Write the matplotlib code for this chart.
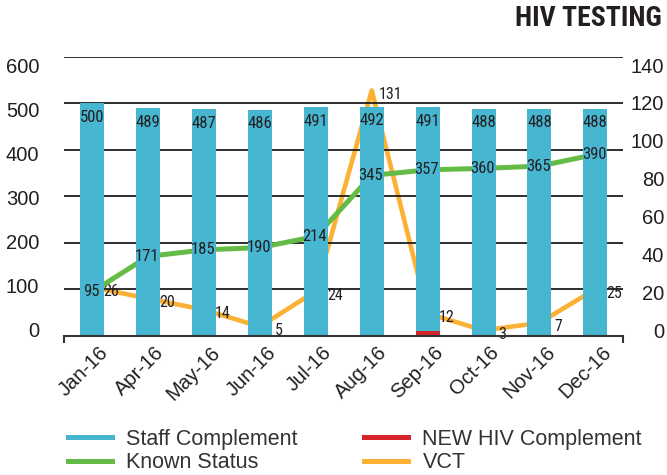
import matplotlib.pyplot as plt
from matplotlib.lines import Line2D
from matplotlib.transforms import ScaledTranslation

months = ['Jan-16', 'Apr-16', 'May-16', 'Jun-16', 'Jul-16',
          'Aug-16', 'Sep-16', 'Oct-16', 'Nov-16', 'Dec-16']
staff = [500, 489, 487, 486, 491, 492, 491, 488, 488, 488]
known = [95, 171, 185, 190, 214, 345, 357, 360, 365, 390]
new_hiv = [0, 0, 0, 0, 0, 0, 10, 0, 0, 0]
vct = [26, 20, 14, 5, 24, 131, 12, 3, 7, 25]
left_ticks = [0, 100, 200, 300, 400, 500, 600]
right_ticks = [0, 20, 40, 60, 80, 100, 120, 140]
series_names = ['Staff Complement', 'Known Status', 'NEW HIV Complement', 'VCT']

BLUE = '#47b6d1'
GREEN = '#64bc46'
RED = '#d7242b'
ORANGE = '#fbb133'
TEXT = '#231f20'

narrow = ['Roboto Condensed', 'Liberation Sans Narrow', 'Roboto', 'DejaVu Sans']
plt.rcParams['font.family'] = ['Liberation Sans', 'DejaVu Sans']

fig = plt.figure(figsize=(6.67, 4.75), dpi=100)
pos = [64.3 / 667, 1 - 336 / 475, 559 / 667, 279.3 / 475]
ax = fig.add_axes(pos)
ax2 = ax.twinx()
# bars and known-status line sit above the VCT line
ax.set_zorder(ax2.get_zorder() + 1)
ax.patch.set_visible(False)
ax2.patch.set_visible(False)

x = list(range(len(months)))

# gridlines
ax.set_ylim(0, 600)
ax.set_yticks(left_ticks)
ax.yaxis.grid(True, color='#1e1e1e', lw=1.3)
ax.set_axisbelow(True)
ax.tick_params(axis='y', length=0, labelleft=False)

# lines (behind bars)
ax.plot(x, known, color=GREEN, lw=3.6, zorder=1)
ax2.plot(x, vct, color=ORANGE, lw=3.3, zorder=1)
ax2.set_ylim(0, 149)
ax2.set_yticks([])

# bars
ax.bar(x, staff, width=0.43, color=BLUE, zorder=2)
ax.bar(x, new_hiv, width=0.43, color=RED, zorder=2.1)

# data labels
for i, v in enumerate(staff):
    ax.annotate(str(v), (i, v), xytext=(0, -14), textcoords='offset pixels',
                ha='center', va='center', fontsize=12, family=narrow,
                color=TEXT, zorder=3)
for i, v in enumerate(known):
    ax.annotate(str(v), (i, v), xytext=(-1, 0), textcoords='offset pixels',
                ha='center', va='center', fontsize=12, family=narrow,
                color=TEXT, zorder=3)
for i, v in enumerate(vct):
    ax2.annotate(str(v), (i, v), xytext=(19, -4), textcoords='offset pixels',
                 ha='center', va='center', fontsize=11.5, family=narrow,
                 color=TEXT, zorder=3)

# x axis
ax.set_xlim(-0.5, 9.5)
ax.set_xticks(x, months, rotation=45, ha='right', rotation_mode='anchor',
              fontsize=14.5, color=TEXT)
ax.tick_params(axis='x', which='major', length=0, pad=5)
ax.set_xticks([-0.5, 9.5], minor=True)
ax.tick_params(axis='x', which='minor', length=5, width=1.5, color='#333333')
for lab in ax.get_xticklabels():
    lab.set_transform(lab.get_transform() +
                      ScaledTranslation(6 / 100, 0, fig.dpi_scale_trans))
for s in ['top', 'left', 'right']:
    ax.spines[s].set_visible(False)
ax.spines['bottom'].set_color('#333333')
ax.spines['bottom'].set_linewidth(1.5)
for s in ax2.spines.values():
    s.set_visible(False)

# value axis labels (spaced a little tighter than the gridlines, as in the source)
labL = fig.add_axes(pos, frameon=False)
labL.set_xticks([])
labL.set_ylim(-13.6, 618.8)
labL.set_yticks(left_ticks)
labL.tick_params(axis='y', length=0, pad=18, labelsize=14.5, labelcolor=TEXT)
labR = labL.twinx()
for s in labR.spines.values():
    s.set_visible(False)
labR.set_ylim(-3.17, 144.4)
labR.set_yticks(right_ticks)
labR.tick_params(axis='y', length=0, pad=29.5, labelsize=14.5, labelcolor=TEXT)
for lab in labR.get_yticklabels():
    lab.set_ha('right')

fig.text(662 / 667, 1 - 5 / 475, 'HIV TESTING', ha='right', va='top',
         fontsize=20, fontweight='bold', family=narrow, color=TEXT)

handles = [Line2D([], [], color=c, lw=3.6) for c in [BLUE, GREEN, RED, ORANGE]]
fig.legend(handles, series_names, ncol=2, loc='upper left',
           bbox_to_anchor=(68 / 667, 1 - 429 / 475), frameon=False,
           fontsize=15.5, labelcolor='#333333', handlelength=2.05,
           handletextpad=0.65, columnspacing=3.1, labelspacing=0.1,
           borderpad=0, borderaxespad=0)

fig.savefig('out.png', dpi=100)
